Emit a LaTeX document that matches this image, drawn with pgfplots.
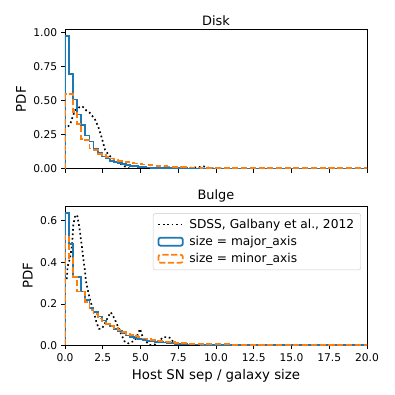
\documentclass[border=0pt]{standalone}
\usepackage{fontspec}
\setmainfont{DejaVu Sans}
\usepackage{pgfplots}
\pgfplotsset{compat=1.18}
\definecolor{tabblue}{HTML}{1F77B4}
\definecolor{taborange}{HTML}{FF7F0E}
\pgfplotsset{
  myaxis/.style={
    scale only axis, width=271.8pt, height=125.5pt,
    xmin=0, xmax=20, ymin=0,
    xtick={0,2.5,5,7.5,10,12.5,15,17.5,20},
    scaled ticks=false,
    tick align=outside, xtick pos=bottom, ytick pos=left,
    major tick length=3.5pt,
    every tick/.style={black, line width=0.8pt},
    axis line style={line width=0.8pt},
    tick label style={font=\fontsize{9.6}{11}\selectfont},
    label style={font=\fontsize{12}{14}\selectfont},
    title style={font=\fontsize{11.6}{14}\selectfont, yshift=-6pt},
    /pgf/number format/assume math mode=true,
    xticklabel style={/pgf/number format/fixed, /pgf/number format/fixed zerofill, /pgf/number format/precision=1},
    ylabel={PDF},
  },
  sdss/.style={black, line width=1.5pt, dash pattern=on 1.5pt off 2.5pt},
  hblue/.style={tabblue, line width=1.6pt, const plot},
  horange/.style={taborange, line width=1.6pt, const plot, dash pattern=on 5.5pt off 2.4pt},
  linelegend/.style={legend image code/.code={\draw[##1] (0pt,0pt) -- (22pt,0pt); \path (25pt,0pt);}},
  boxlegend/.style={legend image code/.code={\draw[##1,sharp plot] (0pt,-3.6pt) rectangle (22pt,3.6pt); \path (25pt,0pt);}},
}
\begin{document}
\begin{tikzpicture}
\path[use as bounding box] (-58.5pt,26.4pt) rectangle (297pt,-329.1pt);
\begin{axis}[myaxis, at={(0pt,0pt)}, anchor=north west, name=top,
  title={Disk}, ymax=1.026, ytick={0,0.25,0.5,0.75,1.0}, xticklabels={},
  yticklabel style={/pgf/number format/fixed, /pgf/number format/fixed zerofill, /pgf/number format/precision=2}]
\addplot[sdss] coordinates {(0.2,0.31)(0.35,0.33)(0.5,0.38)(0.66,0.43)(0.9,0.45)(1.15,0.46)(1.4,0.43)(1.66,0.41)(2.0,0.36)(2.2,0.31)(2.43,0.23)(2.65,0.14)(2.9,0.10)(3.3,0.066)(3.64,0.04)(3.97,0.017)(4.3,0.0)(5.0,0.0)(5.5,0.008)(6.0,0.005)(6.5,0.01)(7.0,0.008)(7.5,0.004)(8.0,0.006)(8.5,0.008)(9.2,0.017)(9.6,0.005)(10,0)(10.5,0)};
\addplot[hblue] coordinates {(0,0)(0,0.975)(0.27,0.70)(0.54,0.51)(0.81,0.40)(1.08,0.32)(1.35,0.245)(1.62,0.20)(1.89,0.15)(2.16,0.115)(2.43,0.09)(2.70,0.075)(2.97,0.06)(3.24,0.05)(3.51,0.042)(3.78,0.035)(4.05,0.028)(4.32,0.022)(4.59,0.018)(4.86,0.015)(5.13,0.012)(5.40,0.010)(5.67,0.008)(5.94,0.007)(6.21,0.006)(6.48,0.005)(6.75,0.004)(7.02,0.004)(7.29,0.003)(7.56,0.003)(8.1,0.002)(9,0.0015)(11,0.001)(15,0.001)(20,0)};
\addplot[horange] coordinates {(0,0)(0,0.55)(0.27,0.55)(0.54,0.42)(0.81,0.33)(1.08,0.22)(1.35,0.21)(1.62,0.15)(1.89,0.14)(2.16,0.11)(2.43,0.10)(2.70,0.085)(2.97,0.075)(3.24,0.068)(3.51,0.06)(3.78,0.054)(4.05,0.048)(4.32,0.043)(4.59,0.039)(4.86,0.035)(5.13,0.031)(5.40,0.028)(5.67,0.025)(5.94,0.023)(6.21,0.021)(6.48,0.019)(6.75,0.017)(7.02,0.015)(7.29,0.013)(7.56,0.012)(8.1,0.010)(9,0.007)(11,0.005)(15,0.003)(20,0)};
\end{axis}
\begin{axis}[myaxis, at={(0pt,-159.0pt)}, anchor=north west, name=bottom,
  title={Bulge}, ymax=0.672, ytick={0,0.2,0.4,0.6},
  xlabel={Host SN sep / galaxy size},
  yticklabel style={/pgf/number format/fixed, /pgf/number format/fixed zerofill, /pgf/number format/precision=1},
  legend style={at={(rel axis cs:0.98,0.947)}, anchor=north east, draw=black!20, rounded corners=2pt,
    fill=white, fill opacity=0.8, text opacity=1, font=\fontsize{11}{13}\selectfont,
    row sep=1.5pt, inner xsep=4pt, inner ysep=3pt},
  legend cell align=left]
\addplot[sdss, linelegend] coordinates {(0.12,0.32)(0.17,0.38)(0.33,0.42)(0.44,0.47)(0.51,0.53)(0.55,0.58)(0.66,0.62)(0.8,0.63)(0.95,0.57)(1.04,0.52)(1.13,0.47)(1.21,0.42)(1.32,0.36)(1.39,0.31)(1.5,0.27)(1.66,0.22)(1.87,0.17)(2.09,0.11)(2.25,0.08)(2.43,0.08)(2.6,0.10)(2.87,0.14)(3.03,0.16)(3.2,0.14)(3.42,0.106)(3.75,0.049)(3.97,0.016)(4.2,0.01)(4.64,0.024)(4.97,0.08)(5.1,0.05)(5.3,0.024)(5.6,0.002)(6.0,0.005)(6.5,0.04)(6.84,0.04)(7.0,0.035)(7.17,0.016)(7.5,0.0)(8.0,0.0)};
\addlegendentry{SDSS, Galbany et al., 2012}
\addplot[hblue, boxlegend] coordinates {(0,0)(0,0.64)(0.27,0.49)(0.54,0.33)(0.81,0.33)(1.08,0.26)(1.35,0.22)(1.62,0.18)(1.89,0.16)(2.16,0.14)(2.43,0.12)(2.70,0.105)(2.97,0.095)(3.24,0.08)(3.51,0.068)(3.78,0.058)(4.05,0.048)(4.32,0.042)(4.59,0.036)(4.86,0.031)(5.13,0.027)(5.40,0.023)(5.67,0.020)(5.94,0.018)(6.21,0.016)(6.48,0.014)(6.75,0.012)(7.02,0.010)(7.29,0.008)(7.56,0.007)(8.1,0.005)(9,0.004)(11,0.003)(15,0.002)(20,0)};
\addlegendentry{size = major\_axis}
\addplot[horange, boxlegend] coordinates {(0,0)(0,0.53)(0.27,0.42)(0.54,0.33)(0.81,0.26)(1.08,0.26)(1.35,0.21)(1.62,0.17)(1.89,0.15)(2.16,0.13)(2.43,0.115)(2.70,0.105)(2.97,0.095)(3.24,0.085)(3.51,0.075)(3.78,0.065)(4.05,0.057)(4.32,0.05)(4.59,0.044)(4.86,0.039)(5.13,0.034)(5.40,0.030)(5.67,0.027)(5.94,0.024)(6.21,0.021)(6.48,0.019)(6.75,0.017)(7.02,0.015)(7.29,0.013)(7.56,0.011)(8.1,0.008)(9,0.006)(11,0.004)(15,0.003)(20,0)};
\addlegendentry{size = minor\_axis}
\end{axis}
\end{tikzpicture}
\end{document}
